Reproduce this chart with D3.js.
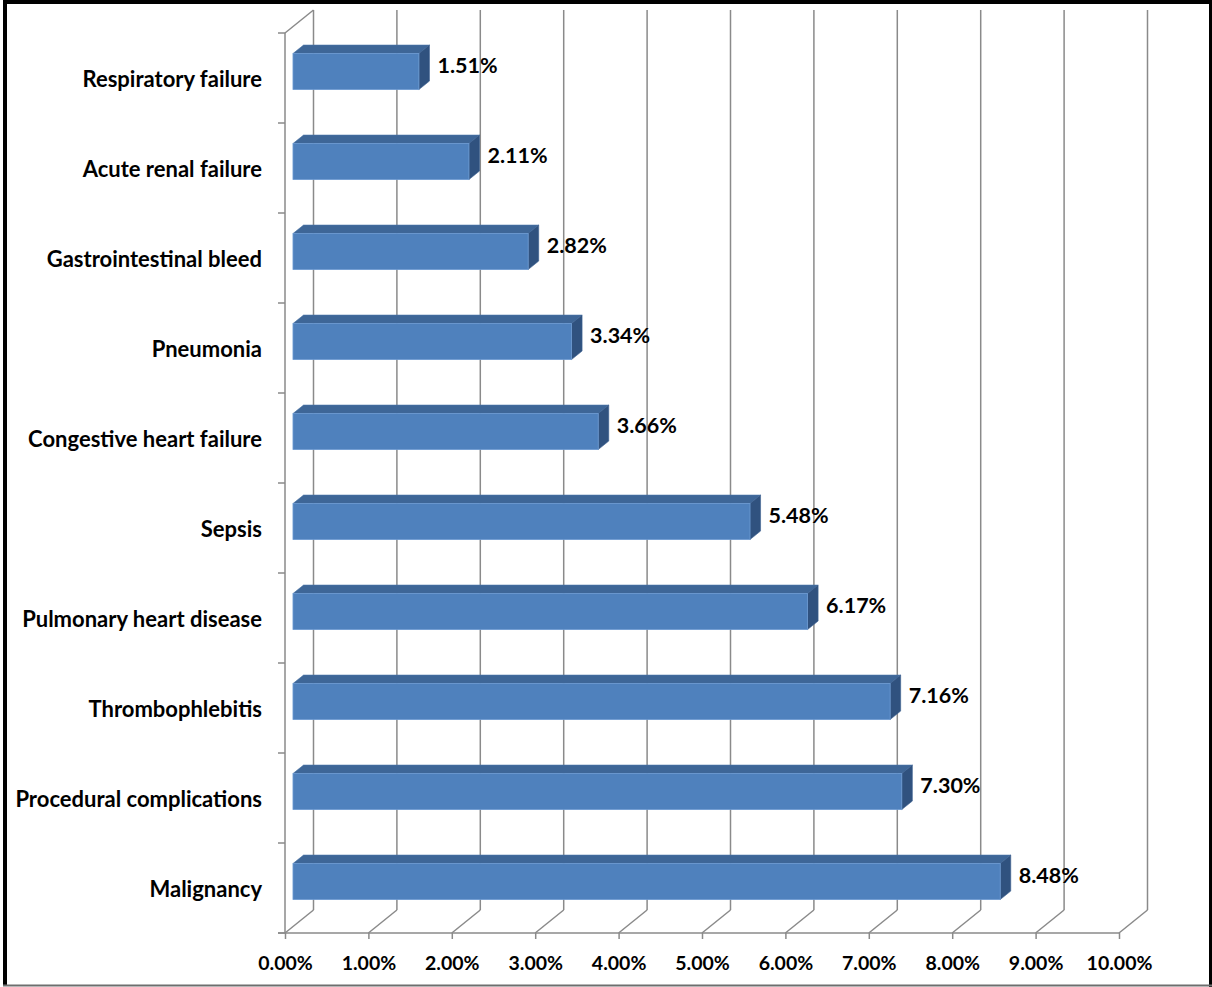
<!DOCTYPE html>
<html>
<head>
<meta charset="utf-8">
<script src="https://cdn.jsdelivr.net/npm/d3@7"></script>
<style>
  html, body { margin: 0; padding: 0; background: #fff; }
  svg { display: block; }
  text { font-family: Lato, "Open Sans", sans-serif; font-weight: 700; fill: #000; }
</style>
</head>
<body>
<svg id="chart" width="1212" height="987"></svg>
<script>
// Causes, listed top to bottom
const categories = [
  "Respiratory failure",
  "Acute renal failure",
  "Gastrointestinal bleed",
  "Pneumonia",
  "Congestive heart failure",
  "Sepsis",
  "Pulmonary heart disease",
  "Thrombophlebitis",
  "Procedural complications",
  "Malignancy"
];
// Share of cases, in percent
const values = [1.51, 2.11, 2.82, 3.34, 3.66, 5.48, 6.17, 7.16, 7.30, 8.48];
// Value axis ticks, in percent
const ticks = [0, 1, 2, 3, 4, 5, 6, 7, 8, 9, 10];

const svg = d3.select("#chart");

// Front plane of the 3D box
const plot = { left: 285, right: 1119, top: 33, bottom: 933 };
// Depth vector (front edge -> back wall)
const depth = { dx: 28.5, dy: -23 };
// Bars occupy this slice of the depth
const t0 = 0.28, t1 = 0.65;

const x = d3.scaleLinear().domain([0, 10]).range([plot.left, plot.right]);
const y = d3.scaleBand().domain(categories).range([plot.top, plot.bottom])
  .paddingInner(0.6).paddingOuter(0.3);
const step = y.step();

const grid = "#8a8a8a";
const g = svg.append("g");

// Back wall gridlines
g.append("g").selectAll("line").data(ticks).join("line")
  .attr("x1", d => x(d) + depth.dx).attr("x2", d => x(d) + depth.dx)
  .attr("y1", plot.bottom + depth.dy).attr("y2", plot.top + depth.dy)
  .attr("stroke", grid).attr("stroke-width", 1.5);

// Floor diagonals
g.append("g").selectAll("line").data(ticks).join("line")
  .attr("x1", d => x(d)).attr("x2", d => x(d) + depth.dx)
  .attr("y1", plot.bottom).attr("y2", plot.bottom + depth.dy)
  .attr("stroke", grid).attr("stroke-width", 1.5);

// Left wall edge
g.append("line")
  .attr("x1", plot.left).attr("x2", plot.left)
  .attr("y1", plot.top).attr("y2", plot.bottom)
  .attr("stroke", grid).attr("stroke-width", 1.5);
g.append("line")
  .attr("x1", plot.left).attr("x2", plot.left + depth.dx)
  .attr("y1", plot.top).attr("y2", plot.top + depth.dy)
  .attr("stroke", grid).attr("stroke-width", 1.5);

// Category ticks on the left wall
const catTicks = d3.range(categories.length + 1).map(i => plot.top + i * step);
g.append("g").selectAll("line").data(catTicks).join("line")
  .attr("x1", plot.left - 7).attr("x2", plot.left)
  .attr("y1", d => d).attr("y2", d => d)
  .attr("stroke", grid).attr("stroke-width", 1.5);

// Value axis (front floor edge)
const xAxis = d3.axisBottom(x).tickValues(ticks).tickSize(6)
  .tickFormat(d => d3.format(".2f")(d) + "%");
const ax = g.append("g").attr("transform", `translate(0,${plot.bottom})`).call(xAxis);
ax.select(".domain").attr("stroke", grid).attr("stroke-width", 1.5)
  .attr("d", `M${plot.left - 7},0H${plot.right}`);
ax.selectAll(".tick line").attr("stroke", grid).attr("stroke-width", 1.5);
ax.selectAll(".tick text")
  .attr("y", 37).attr("dy", null)
  .style("font-family", "Lato, sans-serif").style("font-weight", 700)
  .style("font-size", "19.5px").attr("fill", "#000");

// Bars
const ox0 = depth.dx * t0, oy0 = depth.dy * t0;
const ddx = depth.dx * (t1 - t0), ddy = depth.dy * (t1 - t0);
const bw = y.bandwidth();

const bars = g.append("g").selectAll("g").data(categories.map((c, i) => ({ c, v: values[i] })))
  .join("g");

bars.each(function (d) {
  const sel = d3.select(this);
  const xl = x(0) + ox0, xr = x(d.v) + ox0;
  const yt = y(d.c) + oy0, yb = yt + bw;
  // top face
  sel.append("path")
    .attr("d", `M${xl},${yt}L${xr},${yt}L${xr + ddx},${yt + ddy}L${xl + ddx},${yt + ddy}Z`)
    .attr("fill", "#3E6697").attr("stroke", "#4a74a8").attr("stroke-width", 0.6);
  // side face
  sel.append("path")
    .attr("d", `M${xr},${yt}L${xr + ddx},${yt + ddy}L${xr + ddx},${yb + ddy}L${xr},${yb}Z`)
    .attr("fill", "#30527F").attr("stroke", "#3a5f90").attr("stroke-width", 0.6);
  // front face
  sel.append("rect")
    .attr("x", xl).attr("y", yt).attr("width", xr - xl).attr("height", bw)
    .attr("fill", "#4F81BD").attr("stroke", "#6c9ad2").attr("stroke-width", 0.8);
});

// Value labels
bars.append("text")
  .attr("x", d => x(d.v) + depth.dx * t1 + 8)
  .attr("y", d => y(d.c) + y.bandwidth() / 2 - 5)
  .attr("font-size", 21.5)
  .text(d => d3.format(".2f")(d.v) + "%");

// Category labels
g.append("g").selectAll("text").data(categories).join("text")
  .attr("x", 262)
  .attr("y", d => y(d) + y.bandwidth() / 2 + 9)
  .attr("text-anchor", "end")
  .attr("font-size", 22)
  .text(d => d);

// Frame around the picture
const frame = svg.append("g");
frame.append("line").attr("x1", 5).attr("x2", 5).attr("y1", 0).attr("y2", 986)
  .attr("stroke", "#000").attr("stroke-width", 4);
frame.append("line").attr("x1", 3).attr("x2", 1212).attr("y1", 2).attr("y2", 2)
  .attr("stroke", "#000").attr("stroke-width", 4);
frame.append("line").attr("x1", 1210.5).attr("x2", 1210.5).attr("y1", 0).attr("y2", 987)
  .attr("stroke", "#000").attr("stroke-width", 3);
frame.append("line").attr("x1", 3).attr("x2", 1212).attr("y1", 985.5).attr("y2", 985.5)
  .attr("stroke", "#6e6e6e").attr("stroke-width", 2);
</script>
</body>
</html>
